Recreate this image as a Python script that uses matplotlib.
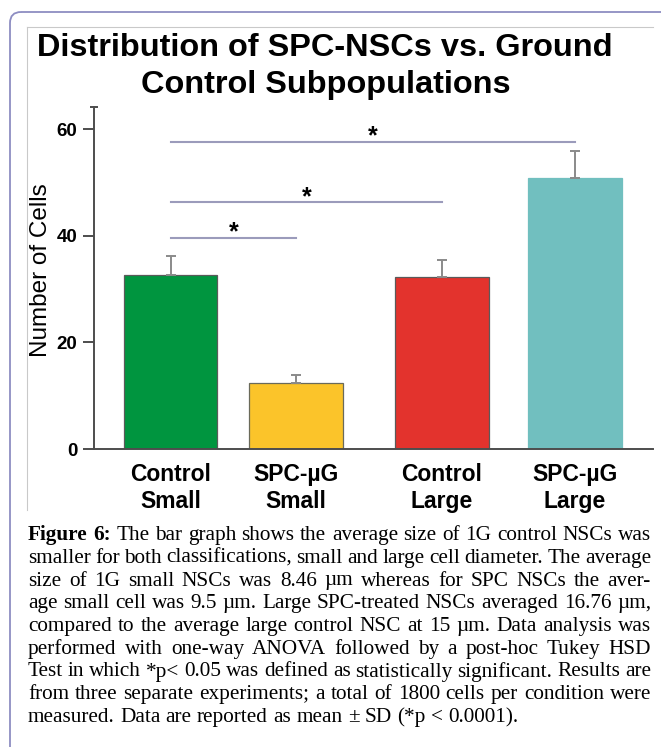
import matplotlib
matplotlib.use('Agg')
import matplotlib.pyplot as plt
from matplotlib.patches import FancyBboxPatch
from matplotlib.lines import Line2D
from matplotlib.transforms import Affine2D

# ---------------- data ----------------
categories = ['Control\nSmall', 'SPC-µG\nSmall', 'Control\nLarge', 'SPC-µG\nLarge']
means = [32.7, 12.4, 32.3, 50.8]
sd = [3.5, 1.4, 3.1, 5.2]
yticks = [0, 20, 40, 60]
comparisons = [(0, 1), (0, 2), (0, 3)]
comparison_heights = [39.7, 46.3, 57.7]
comparison_labels = ['*', '*', '*']
title_lines = ['Distribution of SPC-NSCs vs. Ground', 'Control Subpopulations']
ylabel = 'Number of Cells'
caption_lines = [
    'Figure 6: The bar graph shows the average size of 1G control NSCs was',
    'smaller for both classifications, small and large cell diameter. The average',
    'size of 1G small NSCs was 8.46 µm whereas for SPC NSCs the aver-',
    'age small cell was 9.5 µm. Large SPC-treated NSCs averaged 16.76 µm,',
    'compared to the average large control NSC at 15 µm. Data analysis was',
    'performed with one-way ANOVA followed by a post-hoc Tukey HSD',
    'Test in which *p< 0.05 was defined as statistically significant. Results are',
    'from three separate experiments; a total of 1800 cells per condition were',
    'measured. Data are reported as mean ± SD (*p < 0.0001).',
]

# ---------------- layout / style ----------------
x_pos = [0, 0.98, 2.12, 3.16]
bar_width = 0.73
colors = ['#00953f', '#fbc42a', '#e3332d', '#71bfbf']
edges = ['#5a5a5a', '#6a6a5a', '#5a5a5a', '#71bfbf']
axis_color = '#4d4d4d'
sig_color = '#9b9bbb'

plt.rcParams['font.family'] = ['Liberation Sans', 'DejaVu Sans']

W, H = 661, 747
fig = plt.figure(figsize=(W / 100, H / 100), dpi=100)
fig.patch.set_facecolor('white')


def fx(px):
    return px / W


def fy(py):
    return 1 - py / H


pix = Affine2D().scale(1, -1).translate(0, H)

# frames
outer = FancyBboxPatch((10, 12), 720, 800, boxstyle='round,pad=0,rounding_size=11',
                       transform=pix, facecolor='none', edgecolor='#8d8dc2', lw=1.3)
fig.patches.append(outer)
fig.lines.append(Line2D([27, 653], [27, 27], transform=pix, color='#c9c9c9', lw=0.8))
fig.lines.append(Line2D([27, 27], [27, 510], transform=pix, color='#c9c9c9', lw=0.8))

# axes
ax = fig.add_axes([fx(94), fy(449), fx(653) - fx(94), fy(107) - fy(449)])
ax.bar(x_pos, means, width=bar_width, color=colors, edgecolor=edges, linewidth=0.9, zorder=2)
ax.errorbar(x_pos, means, yerr=[[0] * len(sd), sd], fmt='none', ecolor='#8a8a8a',
            elinewidth=1.4, capsize=3.4, capthick=1.4, zorder=3)

ax.set_xlim(-0.6, 3.77)
ax.set_ylim(0, 64.2)
ax.set_yticks(yticks)
ax.set_yticklabels([str(t) for t in yticks], fontweight='bold', fontsize=13.5)
ax.set_xticks(x_pos)
ax.set_xticklabels(categories, fontweight='bold', fontsize=16.5, linespacing=1.22)
ax.tick_params(axis='x', length=0, pad=10)
ax.tick_params(axis='y', length=8, width=1.4, color=axis_color, pad=4)
for s in ['top', 'right']:
    ax.spines[s].set_visible(False)
for s in ['left', 'bottom']:
    ax.spines[s].set_color(axis_color)
    ax.spines[s].set_linewidth(1.4)
ax.plot([0], [1], transform=ax.transAxes, marker='_', markersize=6, mew=1.4,
        color=axis_color, clip_on=False)

# significance lines
for (i, j), h, lab in zip(comparisons, comparison_heights, comparison_labels):
    ax.plot([x_pos[i], x_pos[j]], [h, h], color=sig_color, lw=1.5, zorder=1)
    ax.annotate(lab, xy=((x_pos[i] + x_pos[j]) / 2, h), xytext=(0, -1.5),
                textcoords='offset points', ha='center', va='baseline',
                fontsize=18, fontweight='bold')

fig.text(fx(41.5), fy(270), ylabel, rotation=90, ha='center', va='center', fontsize=17.5)

renderer = fig.canvas.get_renderer()

# title (fit width)
tfam = ['Liberation Sans Narrow', 'Liberation Sans']
t1 = fig.text(fx(325), fy(56), title_lines[0], ha='center', va='baseline',
              fontsize=27, fontweight='bold', family=tfam)
w1 = t1.get_window_extent(renderer).width
tsize = 27 * 575 / w1
t1.set_fontsize(tsize)
fig.text(fx(326), fy(93), title_lines[1], ha='center', va='baseline',
         fontsize=tsize, fontweight='bold', family=tfam)

# caption, justified
cap_size = 15.3
left, right = 28, 651
space_w = 0.25 * cap_size * 100 / 72
for i, line in enumerate(caption_lines):
    y = 540 + i * 22.75
    words = line.split(' ')
    texts = []
    for j, w in enumerate(words):
        bold = (i == 0 and j < 2)
        t = fig.text(0, fy(y), w, family='Liberation Serif', fontsize=cap_size,
                     fontweight='bold' if bold else 'normal', va='baseline', ha='left')
        texts.append(t)
    widths = [t.get_window_extent(renderer).width for t in texts]
    if i == len(caption_lines) - 1 or len(words) == 1:
        gap = space_w
    else:
        gap = (right - left - sum(widths)) / (len(words) - 1)
    x = left
    for t, w in zip(texts, widths):
        t.set_x(fx(x))
        x += w + gap

fig.savefig('out.png', dpi=100)
